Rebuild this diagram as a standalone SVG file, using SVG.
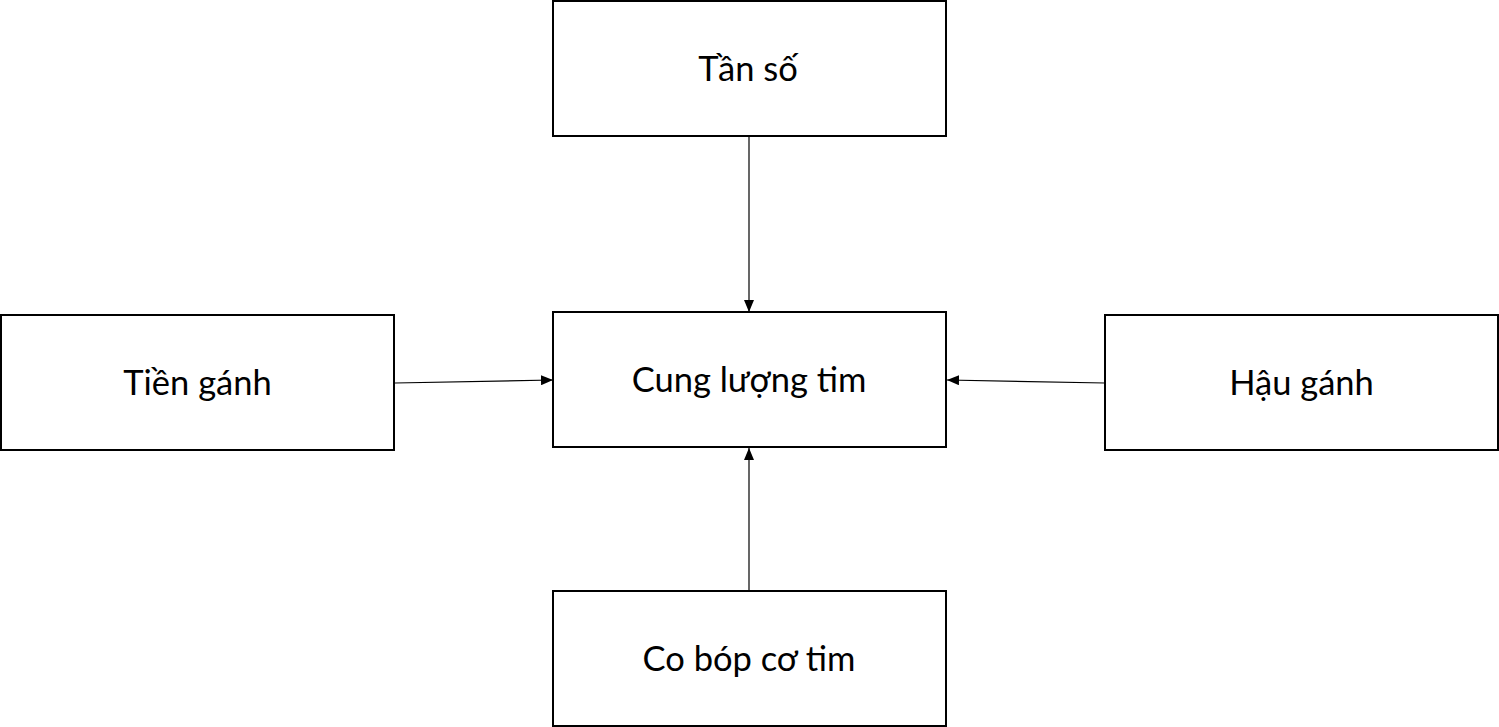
<svg xmlns="http://www.w3.org/2000/svg" width="1499" height="727" viewBox="0 0 1499 727">
<style>
.box{fill:#fff;stroke:#000;stroke-width:2}
.lbl{font-family:Lato,"Liberation Sans",sans-serif;font-size:34.5px;fill:#000;text-anchor:middle}
.edge{stroke:#000;stroke-width:1.2;fill:none;marker-end:url(#ah)}
</style>
<defs>
<marker id="ah" markerWidth="12" markerHeight="10" refX="12" refY="5" orient="auto" markerUnits="userSpaceOnUse">
<path d="M0,0 L12,5 L0,10 Z" fill="#000"/>
</marker>
</defs>
<rect width="1499" height="727" fill="#fff"/>
<g id="connectors">
<line class="edge" x1="749" y1="136" x2="749" y2="312"/>
<line class="edge" x1="395" y1="383" x2="553" y2="380"/>
<line class="edge" x1="1105" y1="383" x2="947" y2="380"/>
<line class="edge" x1="749" y1="591" x2="749" y2="448"/>
</g>
<g id="tan-so"><rect class="box" x="553" y="1" width="393" height="135"/><text class="lbl" x="748" y="81">Tần số</text></g>
<g id="cung-luong-tim"><rect class="box" x="553" y="312" width="393" height="135"/><text class="lbl" x="749" y="392">Cung lượng tim</text></g>
<g id="tien-ganh"><rect class="box" x="1" y="315" width="393" height="135"/><text class="lbl" x="197.5" y="395">Tiền gánh</text></g>
<g id="hau-ganh"><rect class="box" x="1105" y="315" width="393" height="135"/><text class="lbl" x="1301.5" y="395">Hậu gánh</text></g>
<g id="co-bop-co-tim"><rect class="box" x="553" y="591" width="393" height="135"/><text class="lbl" x="749" y="671">Co bóp cơ tim</text></g>
</svg>
